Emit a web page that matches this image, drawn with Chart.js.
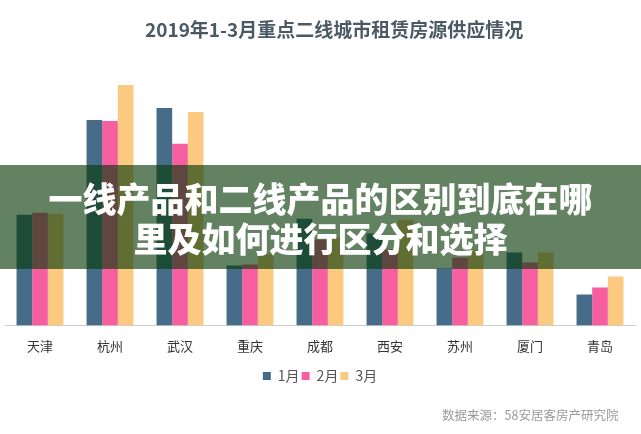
<!DOCTYPE html>
<html>
<head>
<meta charset="utf-8">
<script src="https://cdn.jsdelivr.net/npm/chart.js@4"></script>
<style>
  body { margin: 0; background: #fff; }
  #wrap { position: relative; width: 641px; height: 434px; overflow: hidden; }
  #title {
    position: absolute; left: 145px; top: 16px; white-space: nowrap;
    color: #4a5a65; font-family: "Noto Sans CJK SC", sans-serif; font-weight: bold;
    font-size: 19px; line-height: 26px;
  }
  #banner {
    position: absolute; left: 0; top: 165px; width: 641px; height: 104px;
    background: rgba(6, 57, 6, 0.63);
    color: #fff; font-family: "Noto Sans CJK SC", sans-serif; font-weight: 900;
    font-size: 34px; line-height: 40px; text-align: center;
    padding-top: 13px; box-sizing: border-box;
  }
  #source {
    position: absolute; left: 442px; top: 405px;
    color: #9a9a9a; font-family: "Noto Sans CJK SC", sans-serif; font-size: 12.5px;
  }
</style>
</head>
<body>
<div id="wrap">
  <canvas id="supplyChart" width="641" height="434"></canvas>
  <div id="title">2019年1-3月重点二线城市租赁房源供应情况</div>
  <div id="banner">一线产品和二线产品的区别到底在哪<br>里及如何进行区分和选择</div>
  <div id="source">数据来源：58安居客房产研究院</div>
</div>
<script>
// cities and monthly supply (arbitrary units)
const cities = ["天津", "杭州", "武汉", "重庆", "成都", "西安", "苏州", "厦门", "青岛"];
const jan = [111, 206, 218, 60, 107, 92, 57, 73, 31];
const feb = [113, 205, 182, 61, 86, 76, 68, 63, 38];
const mar = [112, 241, 214, 71, 88, 106, 76, 73, 49];
const monthLabels = ["1月", "2月", "3月"];

const font = "'Noto Sans CJK SC', sans-serif";

const ctx = document.getElementById("supplyChart").getContext("2d");
new Chart(ctx, {
  type: "bar",
  data: {
    labels: cities,
    datasets: [
      { label: monthLabels[0], data: jan, backgroundColor: "#466c8a" },
      { label: monthLabels[1], data: feb, backgroundColor: "#f65e9f" },
      { label: monthLabels[2], data: mar, backgroundColor: "#fcc981" }
    ]
  },
  options: {
    responsive: false,
    animation: false,
    layout: { padding: { left: 5, right: 6, top: 80, bottom: 41 } },
    datasets: { bar: { categoryPercentage: 0.67, barPercentage: 1.0 } },
    plugins: {
      legend: {
        position: "bottom",
        labels: {
          boxWidth: 8, boxHeight: 8, padding: 2,
          color: "#555",
          font: { family: font, size: 14 }
        }
      },
      tooltip: { enabled: false }
    },
    scales: {
      x: {
        grid: { display: false, drawTicks: false },
        border: { color: "#cccccc" },
        ticks: { color: "#333", padding: 13, font: { family: font, size: 13 } }
      },
      y: { display: false, min: 0, max: 246 }
    }
  }
});
</script>
</body>
</html>
